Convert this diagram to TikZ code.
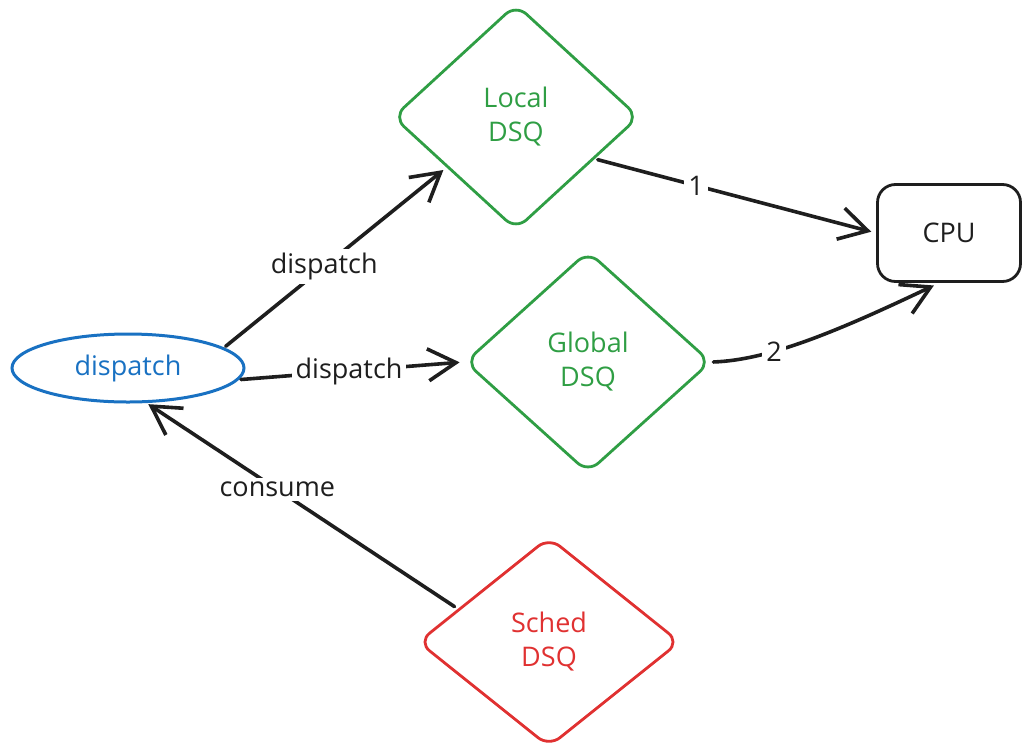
\documentclass[tikz,border=0pt]{standalone}
\usepackage{fontspec}
\setmainfont{Open Sans}
\usetikzlibrary{shapes.geometric,arrows.meta}
\definecolor{exgreen}{HTML}{2F9E44}
\definecolor{exblue}{HTML}{1971C2}
\definecolor{exred}{HTML}{E03131}
\definecolor{exink}{HTML}{1E1E1E}
\begin{document}
\begin{tikzpicture}[x=1pt,y=-1pt,
  font=\fontsize{27}{34}\selectfont,
  dsq/.style={diamond, draw, line width=2.8pt, rounded corners=14pt,
              inner sep=0pt, align=center},
  flow/.style={draw=exink, line width=3.6pt, line cap=round,
               -{Straight Barb[length=28pt,width=32pt,line width=3.6pt]}},
  lbl/.style={fill=white, inner sep=4pt, text=exink}]
\useasboundingbox (0,0) rectangle (1024,744);

% queues and endpoints
\node[ellipse, draw=exblue, line width=3pt, text=exblue,
      minimum width=232pt, minimum height=68pt, inner sep=0pt]
      (disp) at (128,368) {dispatch};
\node[dsq, draw=exgreen, text=exgreen, minimum width=246pt, minimum height=226pt]
      (local) at (516,117) {Local\\DSQ};
\node[dsq, draw=exgreen, text=exgreen, minimum width=246pt, minimum height=222pt]
      (global) at (588,362) {Global\\DSQ};
\node[dsq, draw=exred, text=exred, minimum width=262pt, minimum height=210pt]
      (sched) at (549,642) {Sched\\DSQ};
\node[draw=exink, line width=2.8pt, rounded corners=18pt, text=exink,
      minimum width=143pt, minimum height=97pt]
      (cpu) at (949,233) {CPU};

% connectors
\draw[flow, shorten <=2pt, shorten >=4pt] (disp.12) -- node[lbl, pos=0.45] {dispatch} (local.216);
\draw[flow, shorten <=2pt, shorten >=4pt] (disp.-6) -- node[lbl, pos=0.49] {dispatch} (global.west);
\draw[flow, shorten <=3pt, shorten >=5pt] (local.-28) -- node[lbl, pos=0.36] {1} (cpu.west);
\draw[flow, shorten <=1pt, shorten >=6pt] (global.east) .. controls (770,360) and (840,330) ..
      node[lbl, pos=0.33] {2} (cpu.259);
\draw[flow, shorten <=4pt, shorten >=2pt] (sched.160) -- node[lbl, pos=0.58] {consume} (disp.-62);
\end{tikzpicture}
\end{document}
